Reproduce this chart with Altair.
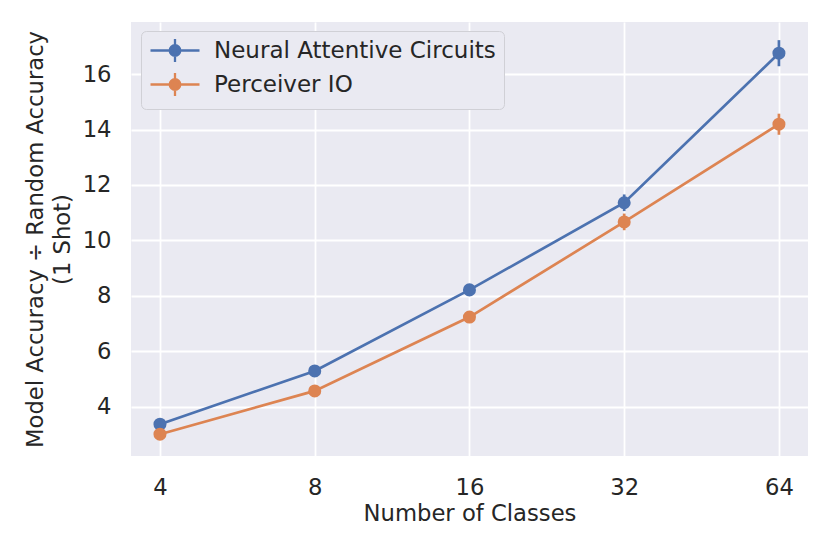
import altair as alt
import pandas as pd

classes = [4, 8, 16, 32, 64]
series_names = ["Neural Attentive Circuits", "Perceiver IO"]
nac_mean = [3.38, 5.30, 8.22, 11.36, 16.75]
nac_err = [0.06, 0.10, 0.12, 0.30, 0.47]
pio_mean = [3.02, 4.58, 7.24, 10.67, 14.19]
pio_err = [0.06, 0.10, 0.12, 0.30, 0.38]
colors = ["#4C72B0", "#DD8452"]
x_ticks = [4, 8, 16, 32, 64]
y_ticks = [4, 6, 8, 10, 12, 14, 16]

rows = []
for name, means, errs in [(series_names[0], nac_mean, nac_err), (series_names[1], pio_mean, pio_err)]:
    for c, m, e in zip(classes, means, errs):
        rows.append({"classes": c, "series": name, "mean": m, "lo": m - e, "hi": m + e})
df = pd.DataFrame(rows)

FONT = "DejaVu Sans"
FS = 22.7

# legend glyph: line + errorbar + dot, drawn in units of 10px (symbolSize 400)
legend_path = ("M-1,0H3.9M1.45,-1.15V1.15"
               "M1.98,0A0.53,0.53,0,1,1,0.92,0A0.53,0.53,0,1,1,1.98,0Z")

legend = alt.Legend(
    title=None, orient="none", legendX=10, legendY=9,
    symbolType=legend_path, symbolSize=400, symbolStrokeWidth=2.3,
    labelFont=FONT, labelFontSize=23, labelColor="#262626",
    labelOffset=42, padding=8, rowPadding=1,
    fillColor="#EAEAF2", strokeColor="#D0D0D6", cornerRadius=5,
    labelLimit=500,
)

xs = alt.Scale(type="log", base=2, domain=[3.513, 72.9], nice=False)
ys = alt.Scale(domain=[2.234, 17.874], nice=False, zero=False)
cs = alt.Scale(domain=series_names, range=colors)

x = alt.X("classes:Q", scale=xs, title="Number of Classes",
          axis=alt.Axis(values=x_ticks, format="d"))
y = alt.Y("mean:Q", scale=ys,
          title=["Model Accuracy \u00f7 Random Accuracy", "(1 Shot)"],
          axis=alt.Axis(values=y_ticks, format="d"))

base = alt.Chart(df)

lines = base.mark_line(strokeWidth=2.7).encode(
    x=x, y=y,
    stroke=alt.Stroke("series:N", scale=cs, legend=legend),
    detail="series:N",
)
bars = base.mark_rule(strokeWidth=2.7).encode(
    x=x, y=alt.Y("lo:Q", scale=ys), y2="hi:Q",
    stroke=alt.Stroke("series:N", scale=cs, legend=legend),
)
points = base.mark_point(filled=True, size=170, opacity=1, strokeWidth=0).encode(
    x=x, y=y,
    fill=alt.Fill("series:N", scale=cs, legend=legend),
    stroke=alt.Stroke("series:N", scale=cs, legend=legend),
)

chart = alt.layer(lines, bars, points).properties(
    width=677, height=434,
    autosize=alt.AutoSizeParams(type="none"),
    padding={"left": 123, "top": 14, "right": 10, "bottom": 80},
    background="white",
).configure_view(
    fill="#EAEAF2", stroke=None,
).configure_axis(
    domain=False, ticks=False, grid=True, gridColor="white", gridWidth=1.8,
    labelFont=FONT, labelFontSize=FS, labelColor="#262626", labelPadding=20,
    titleFont=FONT, titleFontSize=FS, titleColor="#262626", titleFontWeight="normal",
    titleLineHeight=27,
).configure_axisX(
    titlePadding=4,
).configure_axisY(
    titlePadding=8,
)

chart.save("out.html", embed_options={"renderer": "svg", "actions": False})
